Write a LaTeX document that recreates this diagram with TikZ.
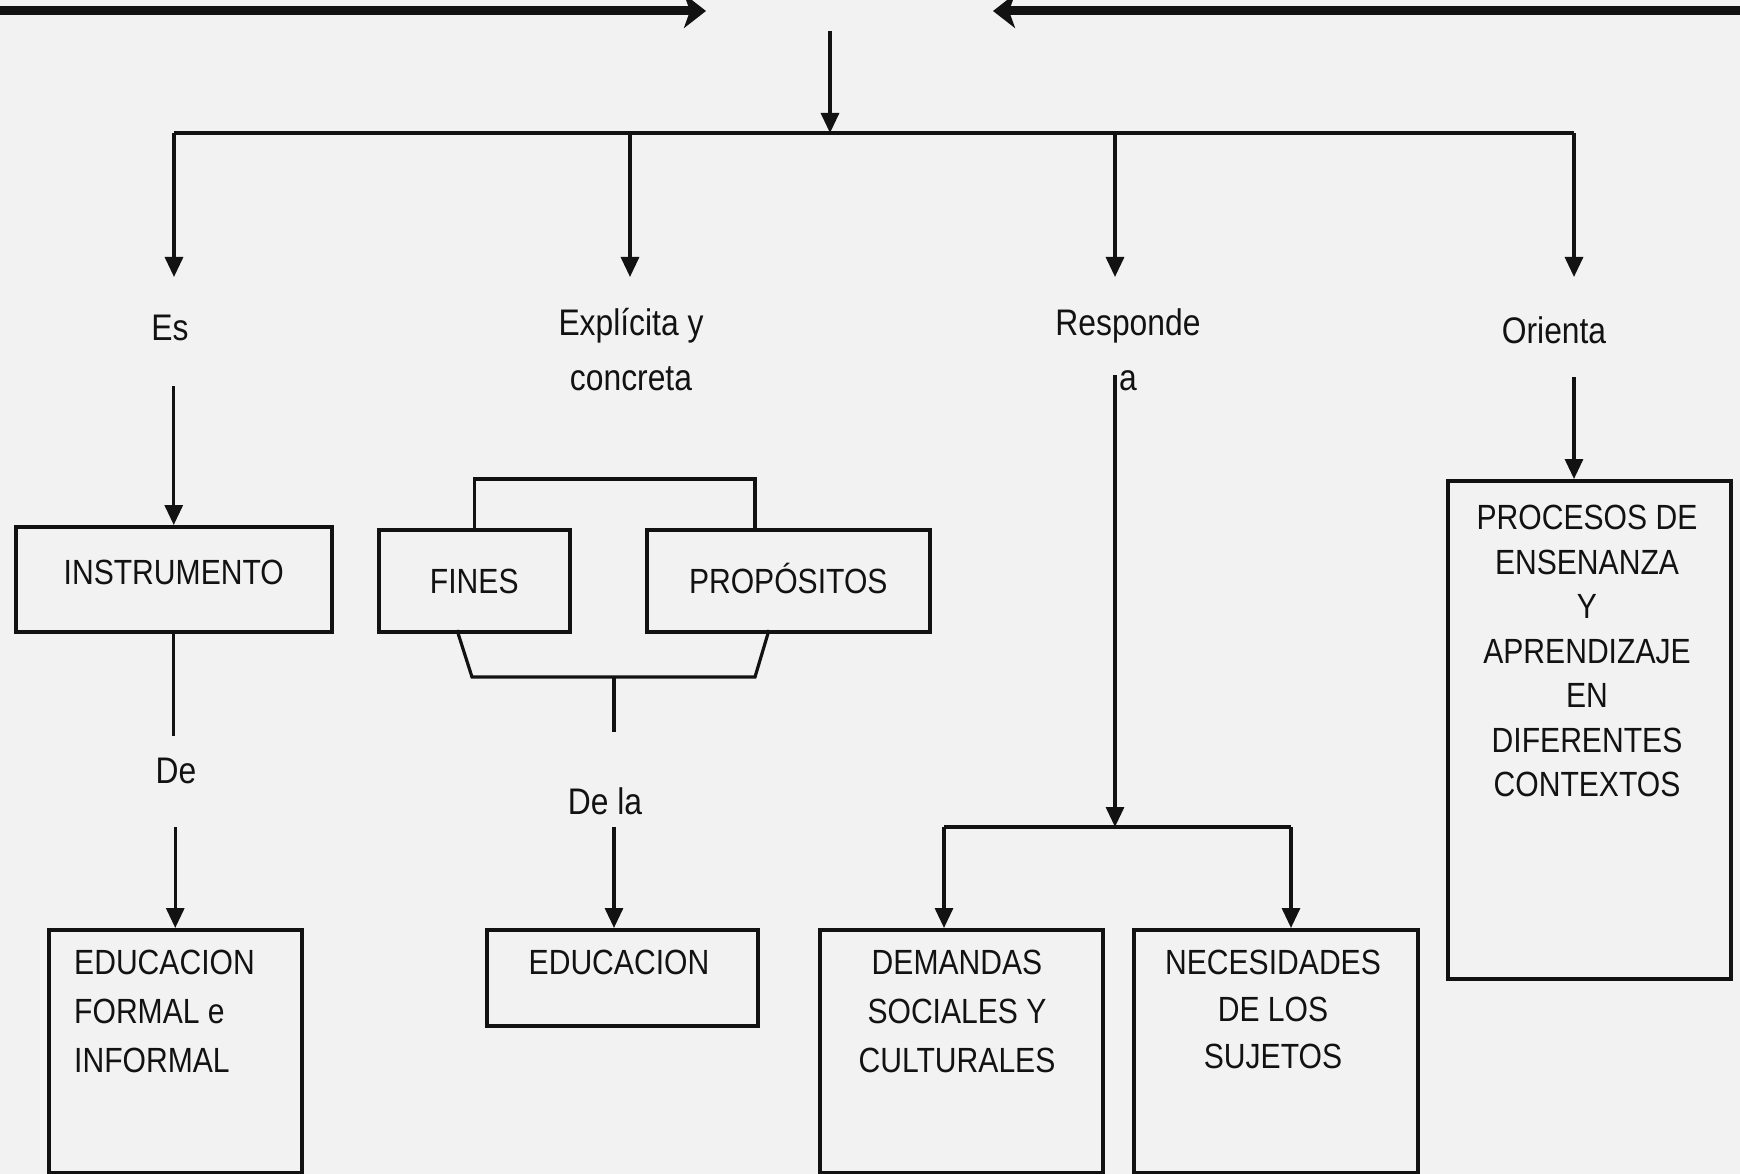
\documentclass[tikz,border=0pt]{standalone}
\usepackage{fontspec}
\setmainfont[FakeStretch=0.86]{Liberation Sans}
\usetikzlibrary{arrows.meta}
\definecolor{bgcol}{RGB}{242,242,242}
\definecolor{ink}{RGB}{18,18,18}
\tikzset{
  box/.style={draw=ink, line width=3.5pt, fill=bgcol, inner sep=0pt},
  txt/.style={font=\fontsize{35}{45}\selectfont, text=ink, align=center, inner sep=0pt},
  lbl/.style={txt, font=\fontsize{37}{55}\selectfont},
  boxtxt/.style={box, font=\fontsize{35}{45}\selectfont, text=ink, text height=25pt, text depth=0pt},
  conn/.style={draw=ink, line width=3.2pt},
  arr/.style={conn, -{Triangle[length=20pt,width=18pt]}},
  bigarr/.style={draw=ink, line width=9pt, -{Stealth[length=22pt,width=34pt,inset=6pt]}},
}
\begin{document}
\begin{tikzpicture}[x=1pt,y=-1pt]
\fill[bgcol] (0,0) rectangle (1740,1174);
\useasboundingbox (0,0) rectangle (1740,1174);

% top thick arrows
\coordinate (tl0) at (-10,11); \coordinate (tl1) at (706,11);
\coordinate (tr0) at (1750,11); \coordinate (tr1) at (993,11);
\draw[bigarr] (tl0) -- (tl1);
\draw[bigarr] (tr0) -- (tr1);

% central arrow and bar
\coordinate (c0) at (830,31); \coordinate (c1) at (830,133);
\draw[arr] (c0) -- (c1);
\coordinate (b1) at (174,133); \coordinate (b2) at (630,133);
\coordinate (b3) at (1115,133); \coordinate (b4) at (1574,133);
\draw[conn] (b1) -- (b4);
\coordinate (d1) at (174,277); \coordinate (d2) at (630,277);
\coordinate (d3) at (1115,277); \coordinate (d4) at (1574,277);
\draw[arr] (b1) -- (d1);
\draw[arr] (b2) -- (d2);
\draw[arr] (b3) -- (d3);
\draw[arr] (b4) -- (d4);

% labels
\node[lbl] (es) at (170,328) {Es};
\node[lbl] (expl) at (631,350) {Explícita y\\concreta};
\node[lbl] (resp) at (1128,350) {Responde\\a};
\node[lbl] (orient) at (1554,330) {Orienta};

% left column
\node[boxtxt, minimum width=316pt, minimum height=105pt, anchor=north west,
      text depth=14pt] (instr) at (14,525) {INSTRUMENTO};
\path (instr.north) ++(0,-139) coordinate (e1);
\draw[arr] (e1) -- (instr.north);
\draw[conn] (instr.south) -- ++(0,102) coordinate (i1);
\node[lbl] (de) at (176,771) {De};
\node[box, minimum width=253pt, minimum height=243pt, anchor=north west] (eduf) at (47,928) {};
\path (eduf.north) ++(0,-101) coordinate (i2);
\draw[arr] (i2) -- (eduf.north);
\node[txt, align=left, anchor=north west, font=\fontsize{35}{49}\selectfont] (edufT) at (74,950)
  {EDUCACION\\FORMAL e\\INFORMAL};

% middle column
\node[boxtxt, minimum width=191pt, minimum height=102pt, anchor=north west] (fines) at (377,528) {FINES};
\node[boxtxt, minimum width=283pt, minimum height=102pt, anchor=north west] (prop) at (645,528) {PROPÓSITOS};
\coordinate (tb2) at (755,479); \coordinate (tb3) at (755,528);
\draw[conn] (fines.north) |- (tb2) -- (tb3);
\coordinate (bb0) at (457,630); \coordinate (bb1) at (472,677);
\coordinate (bb2) at (755,677); \coordinate (bb3) at (769,630);
\draw[conn] (bb0) -- (bb1) -- (bb2) -- (bb3);
\coordinate (s0) at (614,677); \coordinate (s1) at (614,732);
\draw[conn] (s0) -- (s1);
\node[lbl] (dela) at (605,801) {De la};
\coordinate (s2) at (614,827);
\node[box, minimum width=271pt, minimum height=96pt, anchor=north west] (edu) at (485,928) {};
\coordinate (s3) at (614,928);
\draw[arr] (s2) -- (s3);
\node[txt, anchor=north] (eduT) at (619,950) {EDUCACION};

% right-middle column
\coordinate (r0) at (1115,375); \coordinate (r1) at (1115,827);
\draw[arr] (r0) -- (r1);
\node[box, minimum width=283pt, minimum height=243pt, anchor=north west] (dem) at (818,928) {};
\node[box, minimum width=284pt, minimum height=243pt, anchor=north west] (nec) at (1132,928) {};
\coordinate (h1) at (944,827); \coordinate (h2) at (1291,827);
\coordinate (h1b) at (944,928); \coordinate (h2b) at (1291,928);
\draw[conn] (h1) -- (h2);
\draw[arr] (h1) -- (h1b);
\draw[arr] (h2) -- (h2b);
\node[txt, anchor=north, font=\fontsize{35}{49}\selectfont] (demT) at (957,950)
  {DEMANDAS\\SOCIALES Y\\CULTURALES};
\node[txt, anchor=north, font=\fontsize{35}{47}\selectfont] (necT) at (1273,950)
  {NECESIDADES\\DE LOS\\SUJETOS};

% right column
\node[box, minimum width=283pt, minimum height=498pt, anchor=north west] (proc) at (1446,479) {};
\path (proc.north west) ++(128,0) coordinate (o1);
\path (o1) ++(0,-102) coordinate (o0);
\draw[arr] (o0) -- (o1);
\node[txt, anchor=north, font=\fontsize{35}{44.5}\selectfont] (procT) at (1587,505)
  {PROCESOS DE\\ENSENANZA\\Y\\APRENDIZAJE\\EN\\DIFERENTES\\CONTEXTOS};
\end{tikzpicture}
\end{document}
